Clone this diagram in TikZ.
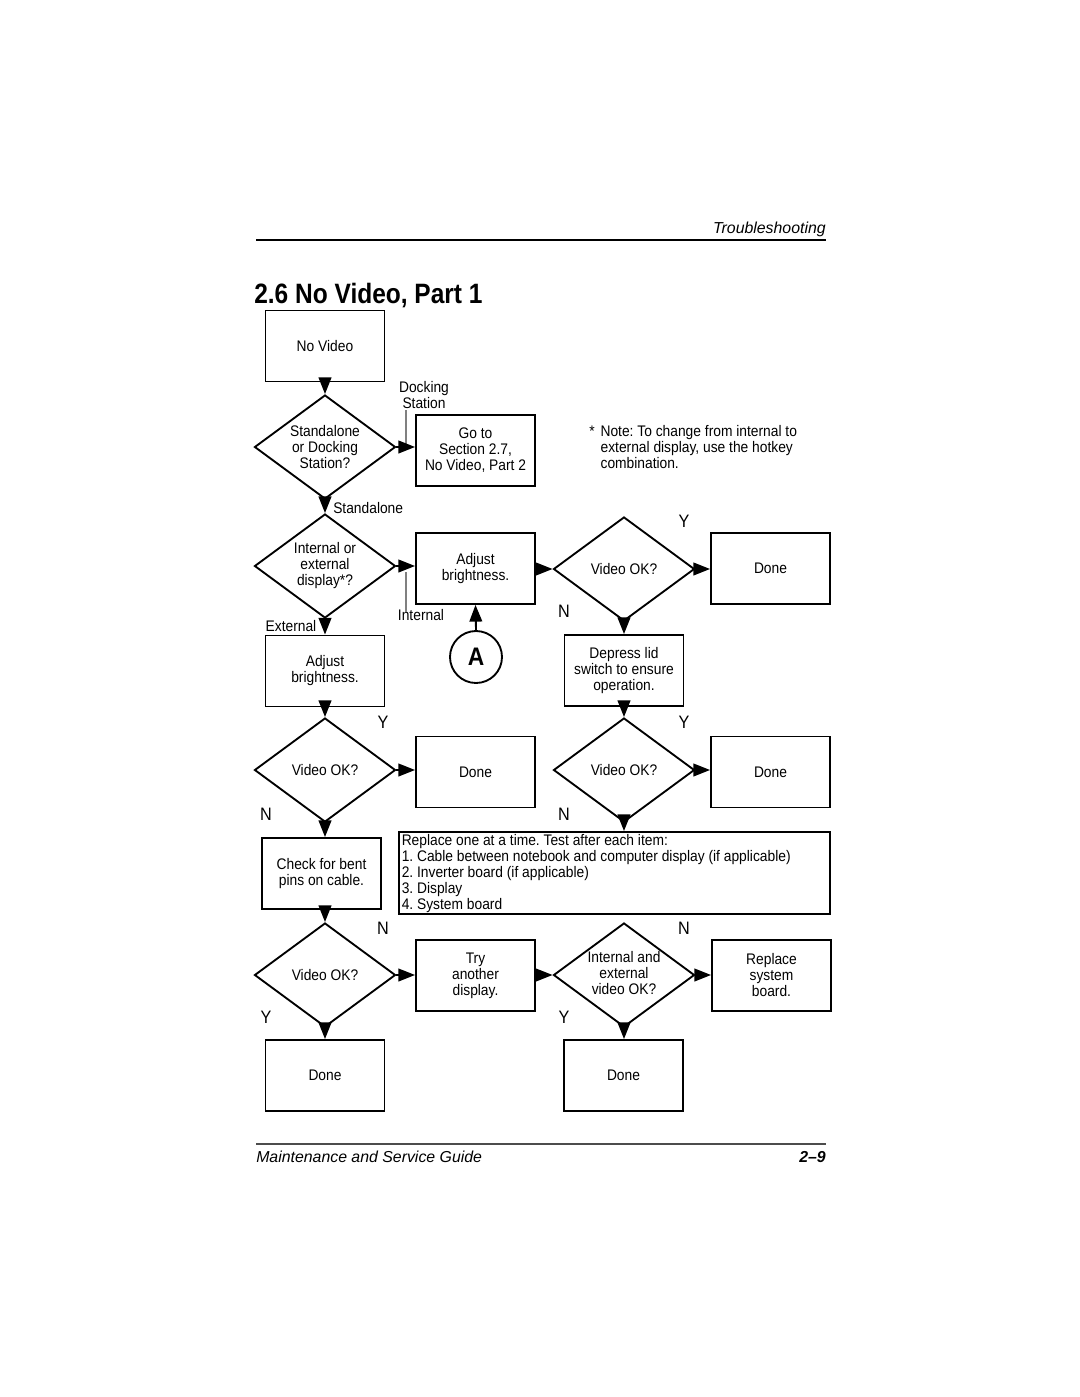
\documentclass[tikz,border=0pt]{standalone}
\usepackage{fontspec}
\setmainfont{Liberation Sans}
\newfontfamily\cond{Liberation Sans}[FakeStretch=0.9]
\newfontfamily\titlefont{Liberation Sans}[FakeStretch=0.875]
\usetikzlibrary{shapes.geometric,arrows.meta}
\frenchspacing
\begin{document}
\frenchspacing
\begin{tikzpicture}[x=0.75pt,y=-0.75pt,
  every node/.style={font=\cond\frenchspacing\fontsize{11.5}{12}\selectfont},
  box/.style={draw, line width=1.4pt, minimum width=89.25pt, minimum height=53.25pt, align=center, inner sep=0pt},
  dia/.style={draw, diamond, line width=1.4pt, minimum width=105.75pt, minimum height=78pt, inner sep=0pt},
  dtext/.style={align=center, inner sep=0pt},
  arr/.style={line width=1.4pt, -{Triangle[length=12.5pt,width=9.5pt]}},
  yn/.style={font=\cond\fontsize{13.5}{14}\selectfont, inner sep=0pt},
  lbl/.style={inner sep=0pt, align=center},
  gline/.style={gray, line width=1pt}
]
\useasboundingbox (0,0) rectangle (1080,1397);
\fill[white] (0,0) rectangle (1080,1397);

% header / footer
\node[anchor=base east, inner sep=0pt, font=\itshape\fontsize{11.9}{13}\selectfont] (hdr) at (826,233) {Troubleshooting};
\coordinate (hl) at (256,240); \coordinate (hr) at (826,240);
\draw[line width=1.1pt] (hl) -- (hr);
\node[anchor=base west, inner sep=0pt, font=\titlefont\bfseries\fontsize{21}{24}\selectfont] (title) at (254,303) {2.6 No Video, Part 1};
\coordinate (fl) at (256,1144); \coordinate (fr) at (826,1144);
\draw[line width=1pt, black!70] (fl) -- (fr);
\node[anchor=base west, inner sep=0pt, font=\itshape\fontsize{11.9}{13}\selectfont] (ftl) at (256,1162) {Maintenance and Service Guide};
\node[anchor=base east, inner sep=0pt, font=\bfseries\itshape\fontsize{11.9}{13}\selectfont] (ftr) at (826,1162) {2--9};

% nodes
\node[box] (nv) at (325,346) {No Video};
\node[dia] (d1) at (325,447) {};
\node[dtext] at (d1) {Standalone\\or Docking\\Station?};
\node[box] (goto) at (475.5,450.5) {Go to\\Section 2.7,\\No Video, Part 2};
\node[lbl] (dock) at (424,395) {Docking\\Station};

\node[dia] (d2) at (325,566) {};
\node[dtext] at (d2) {Internal or\\external\\display*?};
\node[box] (adjR) at (475.5,568.5) {Adjust\\brightness.};
\node[circle, draw, line width=1.4pt, minimum size=39pt, inner sep=0pt, font=\cond\bfseries\fontsize{19}{20}\selectfont] (A) at (476,657) {A};
\node[box] (adjL) at (325,671) {Adjust\\brightness.};
\node[dia] (d3) at (624,569) {};
\node[dtext] at (d3) {Video OK?};
\node[box] (done1) at (770.5,568.5) {Done};
\node[box] (dep) at (624,670.5) {Depress lid\\switch to ensure\\operation.};

\node[dia] (d4) at (325,770) {};
\node[dtext] at (d4) {Video OK?};
\node[box] (done2) at (475.5,772) {Done};
\node[dia] (d5) at (624,770) {};
\node[dtext] at (d5) {Video OK?};
\node[box] (done3) at (770.5,772) {Done};

\node[box] (chk) at (321.5,873.5) {Check for bent\\pins on cable.};
\node[draw, line width=1.4pt, minimum width=323.25pt, minimum height=61.5pt, inner sep=0pt] (rep) at (614.5,873) {};
\node[anchor=north west, align=left, inner sep=0pt] (reptext) at (401.5,834) {Replace one at a time. Test after each item:\\1. Cable between notebook and computer display (if applicable)\\2. Inverter board (if applicable)\\3. Display\\4. System board};

\node[dia] (d6) at (325,975) {};
\node[dtext] at (d6) {Video OK?};
\node[box] (try) at (475.5,975.5) {Try\\another\\display.};
\node[dia] (d7) at (624,975) {};
\node[dtext] at ([yshift=1.5pt]d7.center) {Internal and\\external\\video OK?};
\node[box] (rsb) at (771.5,975.5) {Replace\\system\\board.};
\node[box] (doneL) at (325,1075.5) {Done};
\node[box] (doneR) at (623.5,1075.5) {Done};

% note
\node[anchor=north west, align=left, inner sep=0pt] (note) at (589,425) {\makebox[8.5pt][l]{*}Note: To change from internal to\\\hspace*{8.5pt}external display, use the hotkey\\\hspace*{8.5pt}combination.};

% labels
\node[lbl, anchor=west] (stand) at (333,508) {Standalone};
\node[lbl] (intl) at (421,615) {Internal};
\node[lbl] (extl) at (291,626) {External};
\node[yn] at (684,521) {Y};
\node[yn] at (564,611) {N};
\node[yn] at (383,722) {Y};
\node[yn] at (266,814) {N};
\node[yn] at (684,722) {Y};
\node[yn] at (564,814) {N};
\node[yn] at (383,928) {N};
\node[yn] at (266,1017) {Y};
\node[yn] at (684,928) {N};
\node[yn] at (564,1017) {Y};

% gray leader lines
\coordinate (g1a) at (406,410); \coordinate (g1b) at (406,447);
\draw[gline] (g1a) -- (g1b);
\coordinate (g2a) at (406,572); \coordinate (g2b) at (406,612);
\draw[gline] (g2a) -- (g2b);

% connectors
\draw[arr] (nv.south) -- (d1.north);
\draw[arr] (d1.east) -- (d1.east -| goto.west);
\draw[arr] (d1.south) -- (d2.north);
\draw[arr] (d2.east) -- (d2.east -| adjR.west);
\draw[arr] (A.north) -- (adjR.south);
\draw[arr] (d2.south) -- (adjL.north);
\draw[arr] (adjR.east |- d3.west) -- (d3.west);
\draw[arr] (d3.east) -- (d3.east -| done1.west);
\draw[arr] (d3.south) -- (d3.south |- dep.north);
\draw[arr] (adjL.south) -- (d4.north);
\draw[arr] (dep.south) -- (dep.south |- d5.north);
\draw[arr] (d4.east) -- (d4.east -| done2.west);
\draw[arr] (d5.east) -- (d5.east -| done3.west);
\draw[arr] (d4.south) -- (d4.south |- chk.north);
\draw[arr] (d5.south) -- (d5.south |- rep.north);
\draw[arr] (d6.north |- chk.south) -- (d6.north);
\draw[arr] (d6.east) -- (d6.east -| try.west);
\draw[arr] (try.east |- d7.west) -- (d7.west);
\draw[arr] (d7.east) -- (d7.east -| rsb.west);
\draw[arr] (d6.south) -- (doneL.north);
\draw[arr] (d7.south) -- (d7.south |- doneR.north);
\end{tikzpicture}
\end{document}
